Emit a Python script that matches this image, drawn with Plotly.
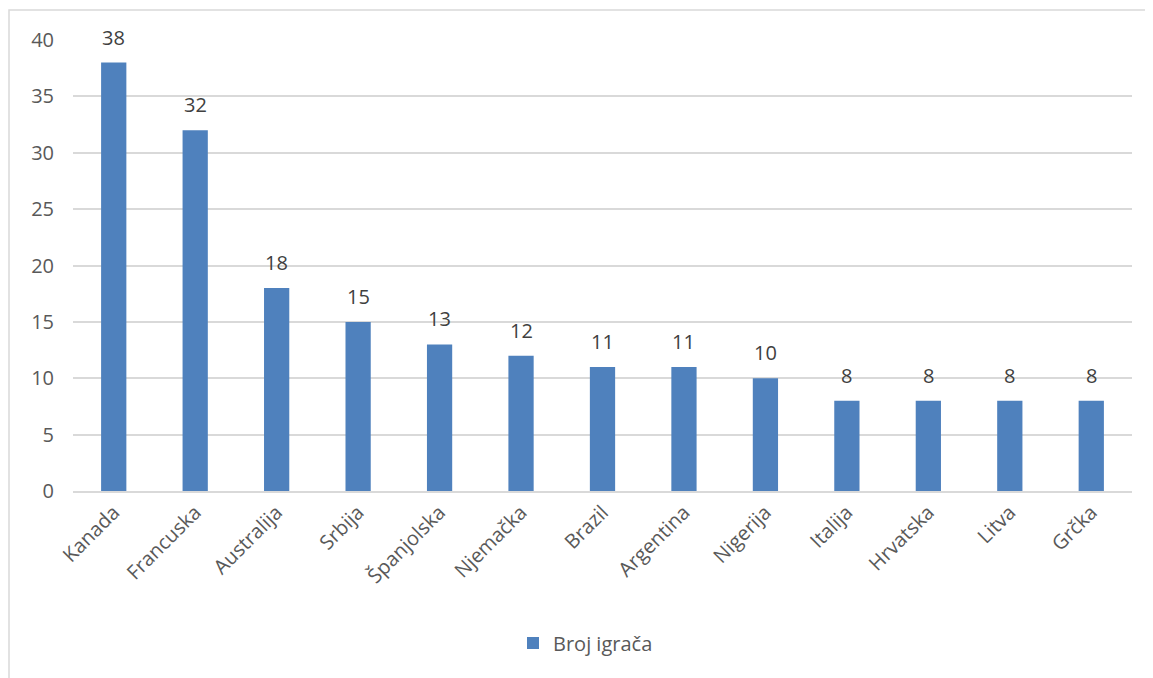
import plotly.graph_objects as go

countries = ["Kanada", "Francuska", "Australija", "Srbija", "Španjolska", "Njemačka",
             "Brazil", "Argentina", "Nigerija", "Italija", "Hrvatska", "Litva", "Grčka"]
players = [38, 32, 18, 15, 13, 12, 11, 11, 10, 8, 8, 8, 8]
series_name = "Broj igrača"
y_ticks = [0, 5, 10, 15, 20, 25, 30, 35, 40]

# page body adds an 8px offset, so the figure is sized to fit the window
W, H = 1145, 670
L, R, T, B = 65, 21, 32, 187
pw, ph = W - L - R, H - T - B

fig = go.Figure()
fig.add_trace(go.Bar(
    x=countries, y=players, name=series_name,
    marker=dict(color="#4F81BD", line=dict(width=0)),
))

# value labels above bars
for c, v in zip(countries, players):
    fig.add_annotation(x=c, y=v, text=str(v), showarrow=False, yanchor="bottom",
                       yshift=10, font=dict(size=20, color="#404040"))

# chart frame (runs off the bottom/right edge like the reference)
fig.add_shape(type="rect", xref="paper", yref="paper",
              x0=(1 - L) / pw, x1=(W + 20 - L) / pw,
              y0=-(H + 20 - T - ph) / ph, y1=1 + (T - 2) / ph,
              line=dict(color="#D9D9D9", width=1.5), layer="below")

fig.update_layout(
    width=W, height=H,
    margin=dict(l=L, r=R, t=T, b=B),
    paper_bgcolor="white", plot_bgcolor="white",
    font=dict(family="Open Sans", size=20, color="#595959"),
    bargap=0.69,
    showlegend=True,
    legend=dict(orientation="h", x=0.5 - 17 / pw, xanchor="center", y=-(635 - T - ph) / ph,
                yanchor="middle", itemwidth=30, font=dict(size=20, color="#595959")),
    xaxis=dict(tickangle=-45, showline=True, linecolor="#D9D9D9", linewidth=1.5,
               ticks="", showgrid=False),
    yaxis=dict(range=[0, 40], tickvals=y_ticks, showgrid=True, gridcolor="#D9D9D9",
               gridwidth=1.5, zeroline=False, showline=False, ticks="",
               ticklabelstandoff=18),
)

fig.write_html("out.html")
